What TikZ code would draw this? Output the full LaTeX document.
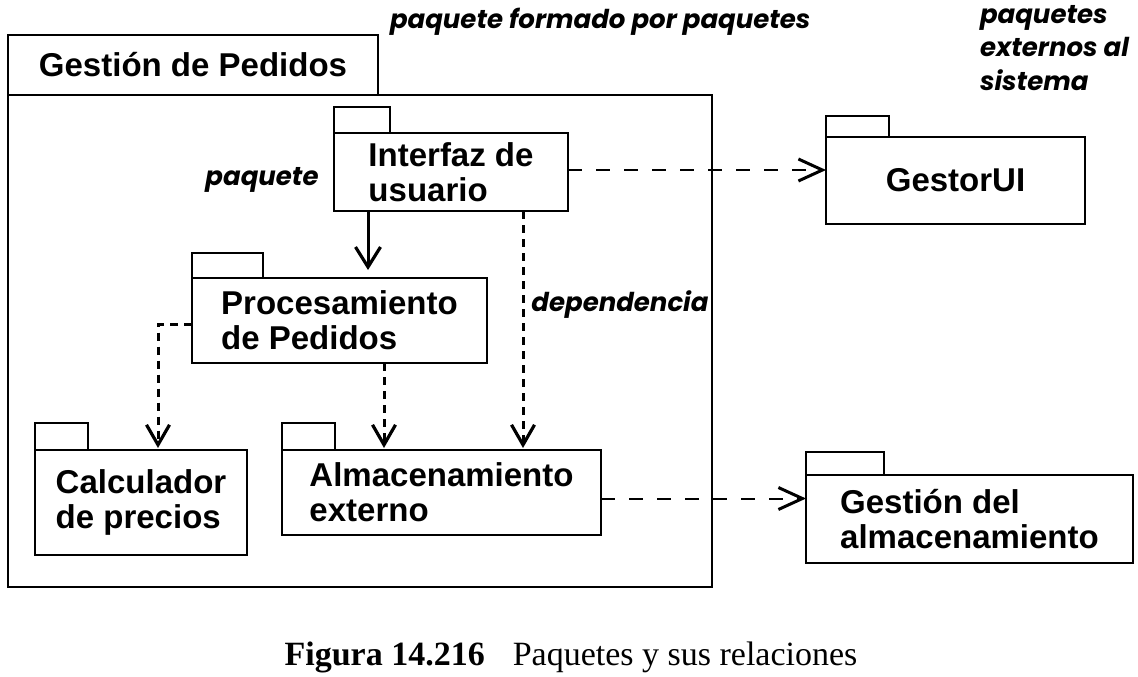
\documentclass[tikz,border=0pt]{standalone}
\usepackage{fontspec}
\setmainfont{Liberation Serif}
\newfontfamily\boxfont{Liberation Sans}
\newfontfamily\notefont{Poppins}
\usetikzlibrary{arrows.meta}

\begin{document}
\begin{tikzpicture}[x=0.5pt,y=-0.5pt]
\tikzstyle{every node}=[inner sep=0pt, outer sep=0pt]
\tikzstyle{pkg}=[draw, line width=1pt, align=left, font=\boxfont\bfseries\fontsize{16.5}{17.5}\selectfont]
\tikzstyle{note}=[font=\notefont\bfseries\itshape\fontsize{13}{16.8}\selectfont, align=left]
\tikzstyle{owns}=[line width=1.5pt, -{Straight Barb[length=10pt,width=12.5pt,line width=1.6pt]}]
\tikzstyle{uses}=[line width=1.5pt, dash pattern=on 4pt off 3pt, -{Straight Barb[length=10pt,width=11.5pt,line width=1.6pt]}]
\tikzstyle{ext}=[line width=1pt, dash pattern=on 7pt off 7pt, -{Straight Barb[length=12pt,width=11pt,line width=1.5pt]}]
\useasboundingbox (0,0) rectangle (1138,676);
% paquete contenedor
\node[pkg, minimum width=185pt, minimum height=30pt] (gptab) at (193,65) {Gestión de Pedidos};
\node[pkg, minimum width=352pt, minimum height=246pt] (gp) at (360,341) {};
% paquetes internos
\node[pkg, minimum width=117pt, minimum height=39pt] (iu) at (451,172) {Interfaz de\\usuario};
\draw[line width=1pt] (iu.north west) rectangle ++(56,-26);
\node[pkg, minimum width=147.5pt, minimum height=42.5pt] (pp) at (339.5,320.5) {Procesamiento\\de Pedidos};
\draw[line width=1pt] (pp.north west) rectangle ++(71,-25);
\node[pkg, minimum width=106pt, minimum height=52.5pt] (cp) at (141,502.5) {Calculador\\de precios};
\draw[line width=1pt] (cp.north west) rectangle ++(53,-27);
\node[pkg, minimum width=159.5pt, minimum height=42.5pt] (ae) at (441.5,492.5) {Almacenamiento\\externo};
\draw[line width=1pt] (ae.north west) rectangle ++(53,-27);
% paquetes externos
\node[pkg, minimum width=129.5pt, minimum height=43.5pt] (gui) at (955.5,180.5) {GestorUI};
\draw[line width=1pt] (gui.north west) rectangle ++(63,-21);
\node[pkg, minimum width=163.5pt, minimum height=44pt] (ga) at (969.5,519) {Gestión del\\almacenamiento};
\draw[line width=1pt] (ga.north west) rectangle ++(78,-23);
% notas
\node[note, anchor=west] (nfp) at (390,22) {paquete formado por paquetes};
\node[note, anchor=north west] (next) at (980,5) {paquetes\\externos al\\sistema};
\node[note] (npk) at (262,180) {paquete};
\node[note] (ndep) at (620,305) {dependencia};
% dependencias
\draw[owns] ([xshift=17pt]iu.south west) -- ([xshift=17pt,yshift=4pt]iu.south west |- pp.north);
\draw[uses] ([xshift=94.5pt]iu.south west) -- ([xshift=94.5pt,yshift=1pt]iu.south west |- ae.north);
\draw[uses] ([xshift=96pt]pp.south west) -- ([xshift=96pt,yshift=1pt]pp.south west |- ae.north);
\draw[uses] ([yshift=-2pt]pp.west) -| ([xshift=61.5pt,yshift=1pt]cp.north west);
\draw[ext] ([yshift=1pt]iu.east) -- ([yshift=1pt]iu.east -| gui.west);
\draw[ext] ([yshift=-3pt]ae.east) -- ([yshift=-3pt]ae.east -| ga.west);
% pie
\node[font=\fontsize{17}{20}\selectfont] (cap) at (571,657) {\textbf{Figura 14.216}\hspace{14pt}Paquetes y sus relaciones};
\end{tikzpicture}
\end{document}
